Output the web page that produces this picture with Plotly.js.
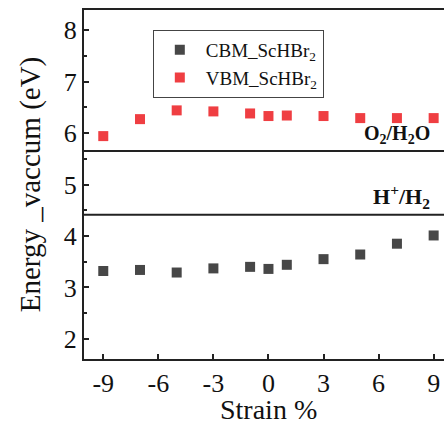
<!DOCTYPE html>
<html>
<head>
<meta charset="utf-8">
<script src="https://cdn.plot.ly/plotly-3.0.1.min.js"></script>
<style>
html,body{margin:0;padding:0;overflow:hidden;background:#fff;width:444px;height:425px;}
#chart{width:452px;height:425px;}
</style>
</head>
<body>
<div id="chart"></div>
<script>
// Data
var strain = [-9, -7, -5, -3, -1, 0, 1, 3, 5, 7, 9];
var cbm = [3.32, 3.34, 3.29, 3.37, 3.40, 3.36, 3.44, 3.55, 3.64, 3.85, 4.01];
var vbm = [5.94, 6.27, 6.44, 6.42, 6.38, 6.33, 6.34, 6.33, 6.29, 6.29, 6.29];
var seriesNames = ["CBM_ScHBr<sub>2</sub>", "VBM_ScHBr<sub>2</sub>"];
var levels = [5.65, 4.41];
var levelLabels = ["<b>O<sub>2</sub>/H<sub>2</sub>O</b>", "<b>H<sup>+</sup>/H<sub>2</sub></b>"];
var xTicks = [-9, -6, -3, 0, 3, 6, 9];
var yTicks = [2, 3, 4, 5, 6, 7, 8];
var xTitle = 'Strain %';
var yTitle = 'Energy _vaccum (eV)';

var FONT = "Liberation Serif";

var traces = [
  {x: strain, y: cbm, name: seriesNames[0], type: 'scatter', mode: 'markers',
   marker: {symbol: 'square', size: 10, color: '#474747'}},
  {x: strain, y: vbm, name: seriesNames[1], type: 'scatter', mode: 'markers',
   marker: {symbol: 'square', size: 10, color: '#ef3e42'}}
];

var shapes = levels.map(function(v){
  return {type: 'line', xref: 'paper', x0: 0, x1: 1, yref: 'y', y0: v, y1: v,
          line: {color: '#222', width: 2}};
});

var annotations = levels.map(function(v, i){
  return {xref: 'paper', x: 0.945, xanchor: 'right', yref: 'y', y: v, yanchor: 'bottom',
          yshift: i === 0 ? 2 : 1, text: levelLabels[i], showarrow: false,
          font: {family: FONT, size: i === 0 ? 20 : 22, color: '#111'}};
});
annotations.push({xref: 'paper', x: 0.5, xanchor: 'center', yref: 'paper', y: 0,
  yanchor: 'middle', yshift: -50, text: xTitle, showarrow: false,
  font: {family: FONT, size: 28, color: '#111'}});

var layout = {
  width: 452, height: 425,
  margin: {l: 84, r: 0, t: 10, b: 66},
  paper_bgcolor: '#fff', plot_bgcolor: '#fff',
  font: {family: FONT, color: '#111'},
  showlegend: true,
  legend: {x: 0.187, y: 0.943, xanchor: 'left', yanchor: 'top',
           bordercolor: '#444', borderwidth: 1, bgcolor: '#fff', itemwidth: 42,
           font: {family: FONT, size: 19, color: '#111'}, tracegroupgap: 0},
  xaxis: {range: [-10.05, 10], tickvals: xTicks, ticktext: xTicks.map(String),
          ticks: 'inside', ticklen: 5, tickwidth: 2, tickcolor: '#222',
          showline: true, linecolor: '#222', linewidth: 2, mirror: true,
          showgrid: false, zeroline: false,
          tickfont: {family: FONT, size: 26, color: '#111'}},
  yaxis: {range: [1.61, 8.39], tickvals: yTicks, ticktext: yTicks.map(String),
          ticks: 'inside', ticklen: 5, tickwidth: 2, tickcolor: '#222',
          minor: {dtick: 0.5, tick0: 0, ticks: 'inside', ticklen: 3, tickwidth: 2, tickcolor: '#222'},
          showline: true, linecolor: '#222', linewidth: 2, mirror: true,
          showgrid: false, zeroline: false,
          tickfont: {family: FONT, size: 26, color: '#111'},
          title: {text: yTitle, font: {family: FONT, size: 29, color: '#111'}, standoff: 15}},
  shapes: shapes,
  annotations: annotations
};

Plotly.newPlot('chart', traces, layout, {displayModeBar: false, staticPlot: true});
</script>
</body>
</html>
